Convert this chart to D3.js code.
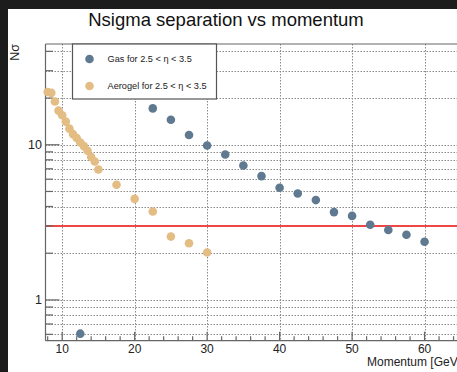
<!DOCTYPE html>
<html>
<head>
<meta charset="utf-8">
<script src="https://cdn.jsdelivr.net/npm/d3@7"></script>
<style>
  html, body { margin: 0; padding: 0; background: #1c1c1c; }
  svg { display: block; font-family: "Liberation Sans", Arial, sans-serif; }
</style>
</head>
<body>
<div id="chart"></div>
<script>
// momentum values (GeV/c) and Nsigma separation
var aeroP = [8, 8.5, 9, 9.5, 10, 10.5, 11, 11.5, 12, 12.5, 13, 13.5, 14, 14.5, 15, 17.5, 20, 22.5, 25, 27.5, 30];
var aeroN = [21.9, 21.6, 19.0, 16.6, 15.5, 14.1, 12.7, 11.7, 11.05, 10.35, 9.8, 9.15, 8.33, 7.8, 6.93, 5.52, 4.48, 3.71, 2.56, 2.32, 2.02];
var gasP = [12.5, 22.5, 25, 27.5, 30, 32.5, 35, 37.5, 40, 42.5, 45, 47.5, 50, 52.5, 55, 57.5, 60];
var gasN = [0.606, 17.15, 14.5, 11.55, 9.9, 8.66, 7.35, 6.28, 5.28, 4.85, 4.4, 3.68, 3.48, 3.05, 2.82, 2.63, 2.37];
var xTicks = [10, 20, 30, 40, 50, 60];
var yLabels = [1, 10];
var yGrid = [0.6, 0.7, 0.8, 0.9, 1, 2, 3, 4, 5, 6, 7, 8, 9, 10, 20, 30, 40];
var threshold = 3;
var series = [
  {name: "Gas for 2.5 < \u03b7 < 3.5", color: "#5f7991"},
  {name: "Aerogel for 2.5 < \u03b7 < 3.5", color: "#e3bd84"}
];

var W = 457, H = 372;
var svg = d3.select("#chart").append("svg")
    .attr("width", W)
    .attr("height", H);

// white canvas on the dark page
svg.append("rect").attr("x", 0).attr("y", 0).attr("width", W).attr("height", H).attr("fill", "#1c1c1c");
svg.append("rect").attr("x", 8).attr("y", 9).attr("width", W - 8).attr("height", H - 9).attr("fill", "#fff");

var x = d3.scaleLinear().domain([7.7, 65]).range([45.5, 460.8]);
var y = d3.scaleLog().domain([0.546, 44.6]).range([340.7, 44]);
var x0 = x.range()[0], x1 = x.range()[1], yb = y.range()[0], yt = y.range()[1];

// grid
var grid = svg.append("g").attr("stroke", "#8a8a8a").attr("stroke-width", 1).attr("stroke-dasharray", "1.5,1.5");
grid.selectAll(".gy").data(yGrid).enter().append("line")
    .attr("x1", x0).attr("x2", x1)
    .attr("y1", function (d) { return Math.round(y(d)) + 0.5; })
    .attr("y2", function (d) { return Math.round(y(d)) + 0.5; });
grid.selectAll(".gx").data(xTicks).enter().append("line")
    .attr("y1", yt).attr("y2", yb)
    .attr("x1", function (d) { return Math.round(x(d)) + 0.5; })
    .attr("x2", function (d) { return Math.round(x(d)) + 0.5; });

// threshold line
svg.append("line")
    .attr("x1", x0).attr("x2", x1)
    .attr("y1", y(threshold)).attr("y2", y(threshold))
    .attr("stroke", "#ef4646").attr("stroke-width", 2);

// frame and ticks (ROOT style, ticks inside)
var frame = svg.append("g").attr("stroke", "#666").attr("stroke-width", 1.2).attr("fill", "none");
frame.append("line").attr("x1", x0).attr("x2", x0).attr("y1", yt).attr("y2", yb);
frame.append("line").attr("x1", x0).attr("x2", x1).attr("y1", yb).attr("y2", yb);
frame.append("line").attr("x1", x0).attr("x2", x1).attr("y1", yt).attr("y2", yt);

var minorX = d3.range(8, 65, 2).filter(function (d) { return d % 10 !== 0; });
frame.selectAll(".mx").data(minorX).enter().append("line")
    .attr("x1", function (d) { return x(d); }).attr("x2", function (d) { return x(d); })
    .attr("y1", yb).attr("y2", yb - 4.5);
frame.selectAll(".Mx").data(xTicks).enter().append("line")
    .attr("x1", function (d) { return x(d); }).attr("x2", function (d) { return x(d); })
    .attr("y1", yb).attr("y2", yb - 9);
frame.selectAll(".ty").data(yGrid).enter().append("line")
    .attr("x1", x0)
    .attr("x2", function (d) { return yLabels.indexOf(d) >= 0 ? x0 + 14 : x0 + 7.5; })
    .attr("y1", function (d) { return y(d); }).attr("y2", function (d) { return y(d); });

// tick labels
svg.selectAll(".xl").data(xTicks).enter().append("text")
    .attr("x", function (d) { return x(d); })
    .attr("y", 353)
    .attr("text-anchor", "middle")
    .attr("font-size", 12)
    .attr("fill", "#222")
    .text(function (d) { return d; });
svg.selectAll(".yl").data(yLabels).enter().append("text")
    .attr("x", 42)
    .attr("y", function (d) { return y(d) + 4.5; })
    .attr("text-anchor", "end")
    .attr("font-size", 12.5)
    .attr("fill", "#222")
    .text(function (d) { return d; });

// axis titles
svg.append("text")
    .attr("x", 367).attr("y", 366)
    .attr("font-size", 12)
    .attr("fill", "#222")
    .text("Momentum [GeV/c]");
svg.append("text")
    .attr("transform", "translate(19,44) rotate(-90)")
    .attr("text-anchor", "end")
    .attr("font-size", 12.5)
    .attr("fill", "#222")
    .text("N\u03c3");

// title
svg.append("text")
    .attr("x", 226).attr("y", 26)
    .attr("text-anchor", "middle")
    .attr("font-size", 18.5)
    .attr("fill", "#111")
    .text("Nsigma separation vs momentum");

// points
var pts = svg.append("g");
pts.selectAll(".aero").data(aeroP).enter().append("circle")
    .attr("cx", function (d) { return x(d); })
    .attr("cy", function (d, i) { return y(aeroN[i]); })
    .attr("r", 4.3)
    .attr("fill", series[1].color);
pts.selectAll(".gas").data(gasP).enter().append("circle")
    .attr("cx", function (d) { return x(d); })
    .attr("cy", function (d, i) { return y(gasN[i]); })
    .attr("r", 4.3)
    .attr("fill", series[0].color);

// legend
var leg = svg.append("g");
leg.append("rect")
    .attr("x", 72.5).attr("y", 44).attr("width", 144).attr("height", 55)
    .attr("fill", "#fff").attr("stroke", "#555").attr("stroke-width", 1.2);
var li = leg.selectAll(".li").data(series).enter().append("g")
    .attr("transform", function (d, i) { return "translate(0," + (59 + i * 27) + ")"; });
li.append("circle").attr("cx", 89.5).attr("cy", 0).attr("r", 4.3).attr("fill", function (d) { return d.color; });
li.append("text").attr("x", 107.5).attr("y", 3.3)
    .attr("font-size", 9.2).attr("fill", "#222")
    .text(function (d) { return d.name; });
</script>
</body>
</html>
